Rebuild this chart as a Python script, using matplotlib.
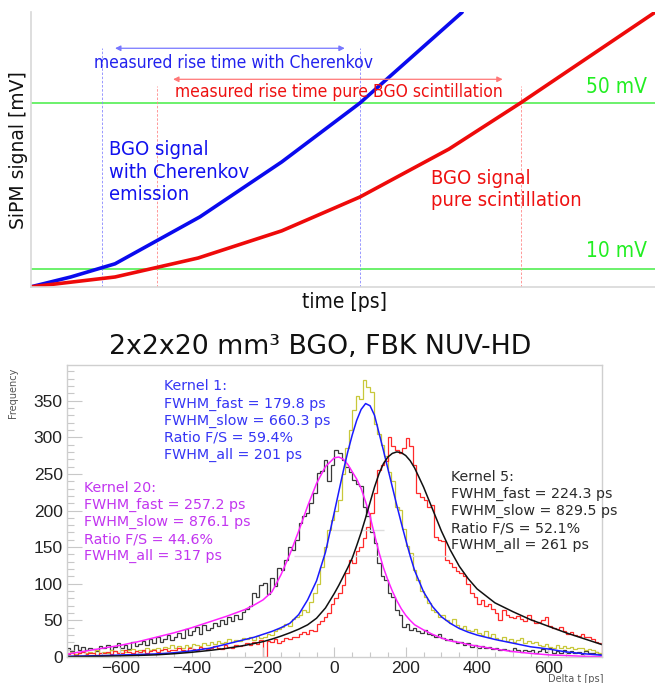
import matplotlib
matplotlib.use("Agg")
import matplotlib.pyplot as plt
import numpy as np

# ---- top sketch: SiPM rise time (arbitrary units 0..100) ----
t_blue = [0, 6.4, 13.5, 27.1, 40.2, 52.7, 69.1]
v_blue = [0, 3.6, 8.4, 25.5, 45.5, 66.9, 100]
t_red = [0, 13.5, 26.8, 40.2, 52.7, 67.0, 78.4, 100]
v_red = [0, 3.6, 10.5, 20.4, 32.7, 50.2, 66.9, 100]
thr_low = 6.5
thr_high = 66.9
cross_blue = [11.4, 52.7]
cross_red = [20.2, 78.5]

# ---- bottom: Delta t histograms, 10 ps bins from -750 to 750 ----
bin_lo, bin_hi, bin_w = -750, 750, 10

# Kernel 20 (black histogram)
h_k20 = [12, 8, 16, 10, 14, 9, 13, 11, 8, 15,
         12, 17, 10, 14, 19, 13, 16, 11, 20, 15,
         18, 22, 16, 24, 19, 27, 21, 25, 30, 23,
         28, 33, 26, 38, 30, 35, 41, 32, 44, 37,
         40, 47, 43, 51, 45, 55, 49, 58, 52, 62,
         66, 70, 88, 82, 98, 101, 86, 108, 97, 122,
         119, 133, 150, 146, 160, 183, 192, 196, 210, 224,
         251, 254, 269, 240, 262, 283, 278, 269, 260, 252,
         242, 236, 233, 205, 192, 170, 155, 128, 110, 105,
         87, 82, 64, 58, 41, 45, 37, 40, 36, 33,
         37, 32, 30, 28, 31, 26, 23, 25, 22, 19,
         20, 17, 19, 14, 16, 13, 15, 12, 14, 11,
         12, 9, 11, 10, 8, 12, 9, 7, 10, 8,
         9, 6, 8, 11, 7, 12, 6, 8, 5, 9,
         6, 8, 5, 7, 4, 8, 6, 5, 7, 4]

# Kernel 1 (yellow histogram)
h_k1 = [5, 7, 4, 6, 8, 5, 7, 6, 9, 5,
        7, 6, 9, 8, 5, 10, 7, 9, 11, 8,
        10, 8, 12, 9, 11, 13, 10, 14, 12, 16,
        13, 15, 12, 17, 14, 18, 16, 15, 19, 17,
        20, 18, 22, 19, 21, 24, 20, 23, 22, 26,
        24, 27, 23, 29, 26, 28, 31, 30, 35, 38,
        41, 45, 43, 52, 55, 58, 64, 62, 75, 87,
        100, 123, 150, 173, 187, 200, 214, 250, 285, 310,
        337, 356, 352, 378, 368, 362, 318, 305, 290, 274,
        252, 240, 205, 201, 175, 152, 142, 119, 105, 90,
        82, 74, 64, 62, 55, 58, 50, 46, 52, 44,
        40, 42, 37, 35, 38, 33, 30, 35, 28, 31,
        26, 23, 28, 22, 25, 20, 23, 26, 19, 22,
        19, 21, 17, 15, 18, 14, 12, 16, 13, 15,
        12, 14, 11, 13, 12, 10, 11, 9, 7, 6]

# Kernel 5 (red histogram)
h_k5 = [4, 6, 3, 5, 7, 4, 6, 5, 3, 6,
        5, 7, 4, 8, 6, 5, 9, 7, 6, 8,
        7, 9, 6, 8, 10, 7, 9, 11, 8, 10,
        9, 12, 10, 8, 13, 11, 10, 14, 12, 11,
        12, 15, 13, 11, 16, 14, 13, 17, 15, 16,
        19, 17, 21, 18, 23, 0, 22, 20, 24, 19,
        22, 26, 24, 28, 27, 31, 34, 32, 37, 35,
        45, 49, 54, 60, 72, 80, 87, 98, 115, 132,
        128, 145, 150, 162, 178, 196, 224, 255, 262, 268,
        301, 288, 283, 278, 285, 299, 288, 262, 224, 218,
        214, 205, 207, 164, 160, 158, 132, 128, 123, 118,
        115, 110, 100, 87, 82, 73, 78, 69, 72, 66,
        60, 50, 64, 58, 55, 53, 56, 52, 49, 57,
        50, 46, 48, 51, 55, 42, 40, 38, 41, 35,
        32, 34, 30, 29, 31, 27, 28, 24, 21, 19]

# fitted curves
fit_x = [-750, -700, -650, -600, -550, -500, -450, -400, -350, -300,
         -250, -225, -200, -175, -150, -125, -100, -75, -50, -25,
         0, 12.5, 25, 37.5, 50, 62.5, 75, 87.5, 100, 112.5,
         125, 137.5, 150, 162.5, 175, 187.5, 200, 212.5, 225, 250,
         275, 300, 325, 350, 375, 400, 450, 500, 550, 600,
         650, 700, 750]
fit_k20 = [4, 8, 12, 16, 21, 27, 33, 40, 48, 56,
           65, 71, 78, 89, 112, 140, 172, 206, 237, 260,
           272, 273, 270, 263, 253, 243, 230, 212, 192, 167,
           143, 122, 105, 90, 77, 66, 57, 50, 44, 37,
           31, 26, 22, 20, 17, 15, 11, 7.5, 5, 3,
           2, 1, 0.5]
fit_k1 = [1, 1.5, 2, 2.8, 3.5, 4.3, 5.8, 8.5, 12, 18,
          24, 27, 31, 35, 40, 46, 58, 78, 104, 143,
          198, 226, 254, 280, 303, 323, 338, 346, 343, 330,
          306, 282, 257, 232, 207, 183, 160, 138, 118, 89,
          69, 55, 46, 39, 34, 30, 24, 19, 14, 11,
          7, 4.5, 2.5]
fit_k5 = [0.5, 0.8, 1.2, 1.6, 2.2, 3, 4.5, 6.5, 9, 12,
          16, 18.5, 21, 24.5, 28.5, 33, 38, 44, 53, 67,
          87, 98, 110, 122, 135, 152, 170, 190, 211, 232,
          250, 264, 273, 278, 280, 279, 275, 268, 258, 232,
          202, 172, 146, 124, 107, 93, 74, 62, 51, 42,
          33, 25, 17]

texts_k1 = "Kernel 1:\nFWHM_fast = 179.8 ps\nFWHM_slow = 660.3 ps\nRatio F/S = 59.4%\nFWHM_all = 201 ps"
texts_k20 = "Kernel 20:\nFWHM_fast = 257.2 ps\nFWHM_slow = 876.1 ps\nRatio F/S = 44.6%\nFWHM_all = 317 ps"
texts_k5 = "Kernel 5:\nFWHM_fast = 224.3 ps\nFWHM_slow = 829.5 ps\nRatio F/S = 52.1%\nFWHM_all = 261 ps"

fig = plt.figure(figsize=(6.55, 6.83), dpi=100)

# ================= top panel =================
ax = fig.add_axes([0.047, 0.580, 0.953, 0.402])
ax.set_xlim(0, 100)
ax.set_ylim(0, 100)
ax.set_xticks([])
ax.set_yticks([])
for s in ["top", "right"]:
    ax.spines[s].set_visible(False)
for s in ["left", "bottom"]:
    ax.spines[s].set_color("#d8d8d8")
    ax.spines[s].set_linewidth(1.2)

cond = dict(family="DejaVu Sans", fontstretch="condensed")

ax.axhline(thr_low, color="#44ee44", lw=1.1)
ax.axhline(thr_high, color="#44ee44", lw=1.1)
ax.vlines(cross_blue, 0, 87, colors="#8888ff", linestyles=(0, (3, 2)), lw=0.6)
ax.vlines(cross_red, 0, 73, colors="#ff8888", linestyles=(0, (3, 2)), lw=0.6)

ax.plot(t_blue, v_blue, color="#0a0aee", lw=2.6, solid_capstyle="round")
ax.plot(t_red, v_red, color="#ee0a0a", lw=2.6, solid_capstyle="round")

ax.annotate("", xy=(50.3, 86.9), xytext=(13.5, 86.9),
            arrowprops=dict(arrowstyle="<|-|>", color="#7777ff", lw=0.9, mutation_scale=8,
                            shrinkA=0, shrinkB=0))
ax.annotate("", xy=(75.6, 75.6), xytext=(22.8, 75.6),
            arrowprops=dict(arrowstyle="<|-|>", color="#ff7777", lw=0.9, mutation_scale=8,
                            shrinkA=0, shrinkB=0))
ax.text(32.4, 81.5, "measured rise time with Cherenkov", color="#2222ee", fontsize=12.5,
        ha="center", va="center", **cond)
ax.text(49.4, 70.9, "measured rise time pure BGO scintillation", color="#ee1111", fontsize=12.5,
        ha="center", va="center", **cond)
ax.text(98.7, 72.7, "50 mV", color="#22ee22", fontsize=15, ha="right", va="center", **cond)
ax.text(98.7, 13.1, "10 mV", color="#22ee22", fontsize=15, ha="right", va="center", **cond)
ax.text(12.5, 41.8, "BGO signal\nwith Cherenkov\nemission", color="#1111ee", fontsize=14.5,
        ha="left", va="center", linespacing=1.25, **cond)
ax.text(64.1, 35.5, "BGO signal\npure scintillation", color="#ee1111", fontsize=14.5,
        ha="left", va="center", linespacing=1.25, **cond)

fig.text(19 / 655, 1 - 150 / 683, "SiPM signal [mV]", rotation=90, ha="center", va="center",
         fontsize=13.5, color="#111111")
fig.text(345 / 655, 1 - 302 / 683, "time [ps]", ha="center", va="center", fontsize=15,
         color="#111111", **cond)

# ================= bottom panel =================
fig.text(320 / 655, 1 - 347 / 683, "2x2x20 mm³ BGO, FBK NUV-HD", ha="center", va="center",
         fontsize=19.3, color="#111111")

bx = fig.add_axes([0.102, 0.038, 0.817, 0.428])
edges = np.arange(bin_lo, bin_hi + bin_w, bin_w)

# faint leftover lines in the original
bx.hlines(173.5, -8, 140, colors="#dddddd", lw=1)
bx.hlines(138, -112, 321, colors="#dddddd", lw=1)

bx.stairs(h_k20, edges, color="#3a3a3a", lw=0.9)
bx.stairs(h_k1, edges, color="#c8c83a", lw=0.9)
bx.stairs(h_k5, edges, color="#ff2a2a", lw=0.9)

bx.plot(fit_x, fit_k20, color="#ff22ff", lw=1.1)
bx.plot(fit_x, fit_k1, color="#1a1aff", lw=1.1)
bx.plot(fit_x, fit_k5, color="#111111", lw=1.1)

bx.set_xlim(-750, 750)
bx.set_ylim(0, 399)
for s in bx.spines.values():
    s.set_color("#cfcfcf")
    s.set_linewidth(1.0)

bx.set_xticks([-600, -400, -200, 0, 200, 400, 600])
bx.set_xticks(np.arange(-750, 751, 50), minor=True)
bx.set_yticks([0, 50, 100, 150, 200, 250, 300, 350])
bx.set_yticks(np.arange(0, 400, 10), minor=True)
bx.set_xticklabels(["\u2212600", "\u2212400", "\u2212200", "0", "200", "400", "600"])
bx.tick_params(axis="y", which="major", direction="in", length=11, width=0.8, color="#c8c8c8",
               pad=3, labelsize=12.5, labelcolor="#222222")
bx.tick_params(axis="y", which="minor", direction="in", length=5, width=0.8, color="#c8c8c8")
bx.tick_params(axis="x", which="major", direction="in", length=7, width=0.8, color="#c8c8c8",
               pad=3, labelsize=12.5, labelcolor="#222222")
bx.tick_params(axis="x", which="minor", direction="in", length=3.5, width=0.8, color="#c8c8c8")
for lab in bx.get_xticklabels() + bx.get_yticklabels():
    lab.set_family("Liberation Sans")

bx.text(-478, 322.4, texts_k1, color="#3535f5", fontsize=10.3, ha="left", va="center",
        linespacing=1.28)
bx.text(-702, 184.4, texts_k20, color="#c235f0", fontsize=10.3, ha="left", va="center",
        linespacing=1.28)
bx.text(327, 199.5, texts_k5, color="#2a2a2a", fontsize=10.3, ha="left", va="center",
        linespacing=1.28)

fig.text(13 / 655, 1 - 393 / 683, "Frequency", rotation=90, ha="center", va="center",
         fontsize=7, color="#555555")
fig.text(603 / 655, 1 - 679 / 683, "Delta t [ps]", ha="right", va="center",
         fontsize=7, color="#555555")

fig.savefig("out.png", dpi=100)
